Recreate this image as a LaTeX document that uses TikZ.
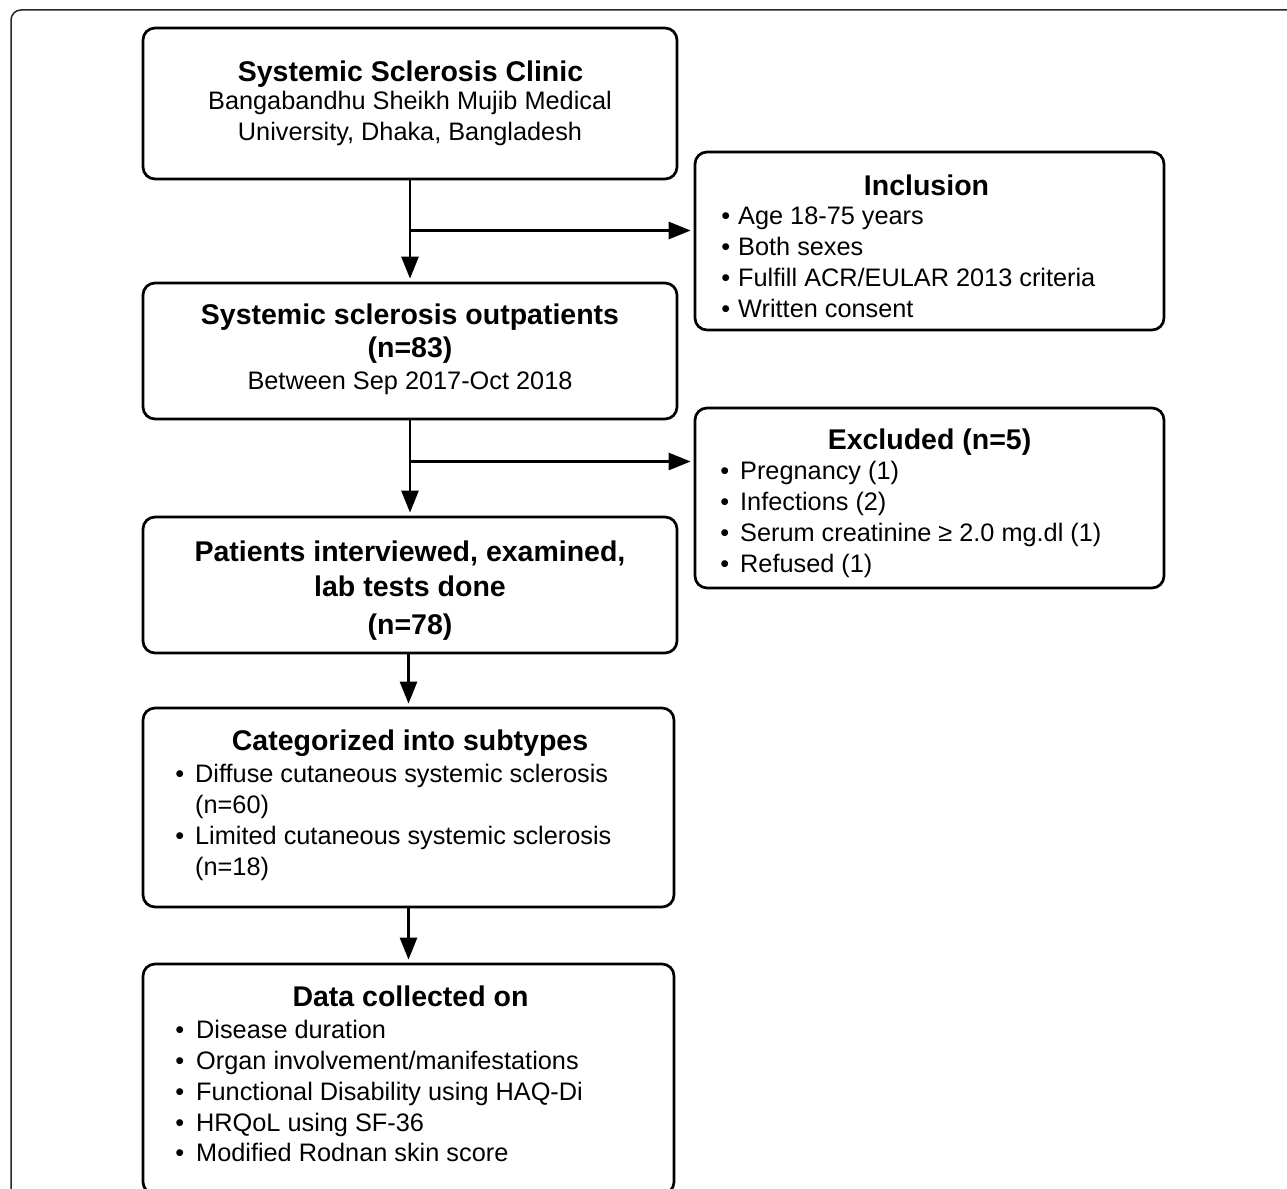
\documentclass[tikz,border=0pt]{standalone}
\usepackage{fontspec}
\setmainfont{Liberation Sans}
\usetikzlibrary{arrows.meta}
\tikzset{
  box/.style={draw, line width=2.7pt, rounded corners=12pt, inner sep=0pt},
  ttl/.style={font=\bfseries\fontsize{28.5}{33}\selectfont, anchor=base, inner sep=0pt},
  txt/.style={font=\fontsize{25.3}{30}\selectfont, anchor=base, inner sep=0pt},
  itm/.style={font=\fontsize{25.3}{30}\selectfont, anchor=base west, inner sep=0pt},
  arr/.style={line width=2.7pt, shorten >=3pt, -{Triangle[length=22pt,width=17pt]}},
  plain/.style={line width=2.7pt}
}
\begin{document}
\begin{tikzpicture}[x=1pt,y=-1pt]
\useasboundingbox (0,0) rectangle (1287,1188);
\clip (0,0) rectangle (1287,1188);
\fill[white] (0,0) rectangle (1287,1188);
% outer frame
\draw[line width=1.5pt, black!85, rounded corners=10pt] (1300,10) -- (11,10) -- (11,1200);

% boxes
\node[box, minimum width=534pt, minimum height=151pt] (clinic) at (410,103.5) {};
\node[box, minimum width=469pt, minimum height=178pt] (incl) at (929.5,241) {};
\node[box, minimum width=534pt, minimum height=136pt] (outp) at (410,351) {};
\node[box, minimum width=469pt, minimum height=180pt] (excl) at (929.5,498) {};
\node[box, minimum width=534pt, minimum height=136pt] (intv) at (410,585) {};
\node[box, minimum width=531pt, minimum height=199pt] (cat) at (408.5,807.5) {};
\node[box, minimum width=531pt, minimum height=230pt] (data) at (408.5,1079) {};

% clinic text
\node[ttl] (c1) at (410.5,82) {Systemic Sclerosis Clinic};
\node[txt] (c2) at (410,110) {Bangabandhu Sheikh Mujib Medical};
\node[txt] (c3) at (410,141) {University, Dhaka, Bangladesh};

% inclusion text
\node[ttl] (i0) at (926.5,195) {Inclusion};
\node[itm] (i1) at (738,224.5) {\llap{•\hspace{8pt}}Age 18-75 years};
\node[itm] (i2) at (738,255.5) {\llap{•\hspace{8pt}}Both sexes};
\node[itm] (i3) at (738,286.5) {\llap{•\hspace{8pt}}Fulfill ACR/EULAR 2013 criteria};
\node[itm] (i4) at (738,317.5) {\llap{•\hspace{8pt}}Written consent};

% outpatients text
\node[ttl] (o1) at (410,324) {Systemic sclerosis outpatients};
\node[ttl] (o2) at (410,357) {(n=83)};
\node[txt] (o3) at (410,389) {Between Sep 2017-Oct 2018};

% excluded text
\node[ttl] (e0) at (929.5,449) {Excluded (n=5)};
\node[itm] (e1) at (740,479) {\llap{•\hspace{11pt}}Pregnancy (1)};
\node[itm] (e2) at (740,510) {\llap{•\hspace{11pt}}Infections (2)};
\node[itm] (e3) at (740,541) {\llap{•\hspace{11pt}}Serum creatinine ≥ 2.0 mg.dl (1)};
\node[itm] (e4) at (740,572) {\llap{•\hspace{11pt}}Refused (1)};

% interviewed text
\node[ttl] (p1) at (410,561) {Patients interviewed, examined,};
\node[ttl] (p2) at (410,596) {lab tests done};
\node[ttl] (p3) at (410,634) {(n=78)};

% categorized text
\node[ttl] (k0) at (410,750) {Categorized into subtypes};
\node[itm] (k1) at (195,782.5) {\llap{•\hspace{11pt}}Diffuse cutaneous systemic sclerosis};
\node[itm] (k2) at (195,813) {(n=60)};
\node[itm] (k3) at (195,844.5) {\llap{•\hspace{11pt}}Limited cutaneous systemic sclerosis};
\node[itm] (k4) at (195,875) {(n=18)};

% data text
\node[ttl] (d0) at (410.5,1006) {Data collected on};
\node[itm] (d1) at (196,1038) {\llap{•\hspace{12pt}}Disease duration};
\node[itm] (d2) at (196,1069) {\llap{•\hspace{12pt}}Organ involvement/manifestations};
\node[itm] (d3) at (196,1100) {\llap{•\hspace{12pt}}Functional Disability using HAQ-Di};
\node[itm] (d4) at (196,1131) {\llap{•\hspace{12pt}}HRQoL using SF-36};
\node[itm] (d5) at (196,1161) {\llap{•\hspace{12pt}}Modified Rodnan skin score};

% connectors
\coordinate (b1) at (410,230.5);
\coordinate (b2) at (410,461.5);
\draw[arr] (clinic.south) -- (outp.north);
\draw[arr] (b1) -- (b1 -| incl.west);
\draw[arr] (outp.south) -- (intv.north);
\draw[arr] (b2) -- (b2 -| excl.west);
\draw[arr] (intv.south -| cat.south) -- (cat.north);
\draw[arr] (cat.south) -- (data.north);
\end{tikzpicture}
\end{document}
